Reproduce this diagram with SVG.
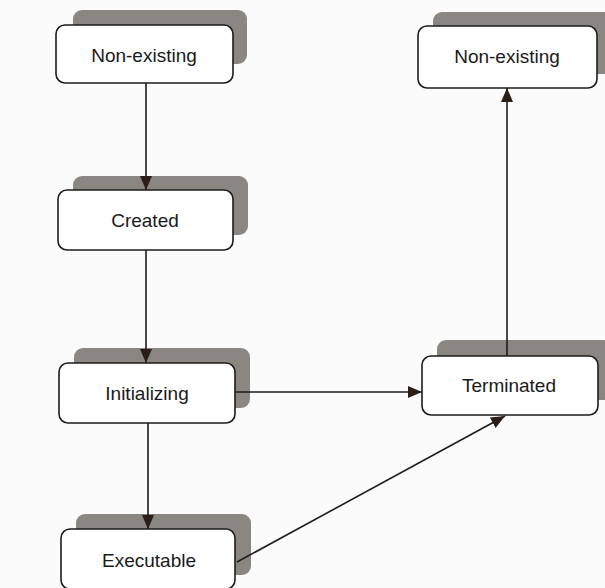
<svg xmlns="http://www.w3.org/2000/svg" width="605" height="588" viewBox="0 0 605 588">
<defs>
<marker id="ah" viewBox="0 0 14 12" refX="14" refY="6" markerWidth="14" markerHeight="12" markerUnits="userSpaceOnUse" orient="auto">
<path d="M0,0 L14,6 L0,12 Z" fill="#2b1d17"/>
</marker>
</defs>
<style>
.shadow{fill:#8a8681;}
.box{fill:#ffffff;stroke:#1c1c1c;stroke-width:1.6;}
.lbl{font-family:"Liberation Sans",Arial,sans-serif;font-size:19px;fill:#1a1a1a;text-anchor:middle;}
.edge{stroke:#1c1c1c;stroke-width:1.6;fill:none;marker-end:url(#ah);}
</style>
<rect width="605" height="588" fill="#fbfbfb"/>
<g id="non-existing-1">
<rect class="shadow" x="73" y="10" width="174" height="54" rx="9"/>
<rect class="box" x="56" y="25" width="177" height="58" rx="9"/>
<text class="lbl" x="144" y="62">Non-existing</text>
</g>
<g id="created">
<rect class="shadow" x="73" y="176" width="175" height="59" rx="9"/>
<rect class="box" x="58" y="190" width="175" height="60" rx="9"/>
<text class="lbl" x="145" y="227">Created</text>
</g>
<g id="initializing">
<rect class="shadow" x="74" y="348" width="176" height="60" rx="9"/>
<rect class="box" x="59" y="363" width="176" height="60" rx="9"/>
<text class="lbl" x="147" y="400">Initializing</text>
</g>
<g id="executable">
<rect class="shadow" x="76" y="514" width="175" height="61" rx="9"/>
<rect class="box" x="61" y="529" width="174" height="60" rx="9"/>
<text class="lbl" x="149" y="567">Executable</text>
</g>
<g id="terminated">
<rect class="shadow" x="437" y="340" width="175" height="60" rx="9"/>
<rect class="box" x="422" y="356" width="176" height="59" rx="9"/>
<text class="lbl" x="509" y="392">Terminated</text>
</g>
<g id="non-existing-2">
<rect class="shadow" x="433" y="12" width="180" height="62" rx="9"/>
<rect class="box" x="418" y="26" width="179" height="62" rx="9"/>
<text class="lbl" x="507" y="63">Non-existing</text>
</g>
<g id="connectors">
<line class="edge" x1="146" y1="83" x2="146" y2="190"/>
<line class="edge" x1="146" y1="250" x2="146" y2="363"/>
<line class="edge" x1="148" y1="423" x2="148" y2="529"/>
<line class="edge" x1="235" y1="392" x2="422" y2="392"/>
<line class="edge" x1="237" y1="562" x2="505" y2="416"/>
<line class="edge" x1="507" y1="356" x2="507" y2="88"/>
</g>
</svg>
